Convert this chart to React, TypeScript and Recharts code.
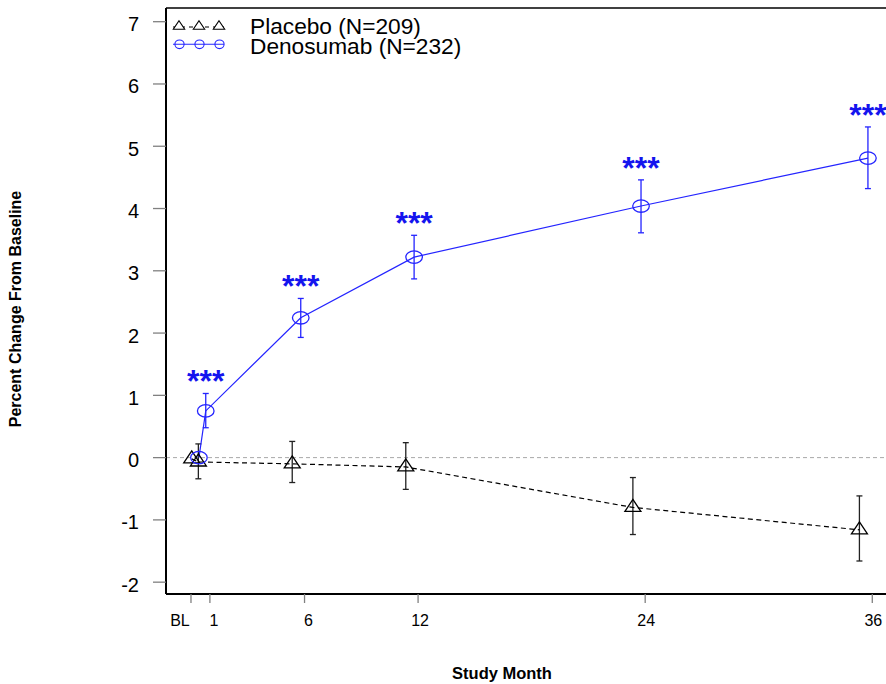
import React from 'react';
import { ComposedChart, Line, Scatter, XAxis, YAxis, ErrorBar, ReferenceLine } from 'recharts';

// ---- data ----
const monthTicks = [0, 1, 6, 12, 24, 36];
const monthTickLabels = ['BL', '1', '6', '12', '24', '36'];
const valueTicks = [-2, -1, 0, 1, 2, 3, 4, 5, 6, 7];

const placeboX = [0.04, 0.39, 5.35, 11.35, 23.35, 35.32];
const placeboMean = [-0.02, -0.07, -0.1, -0.15, -0.8, -1.16];
const placeboLow = [null, -0.34, -0.4, -0.51, -1.235, -1.66];
const placeboHigh = [null, 0.22, 0.26, 0.24, -0.32, -0.615];

const denosumabX = [0.42, 0.78, 5.8, 11.79, 23.78, 35.77];
const denosumabMean = [0, 0.75, 2.245, 3.22, 4.04, 4.81];
const denosumabLow = [null, 0.48, 1.93, 2.87, 3.61, 4.32];
const denosumabHigh = [null, 1.03, 2.556, 3.57, 4.46, 5.31];
const denosumabSig = ['', '***', '***', '***', '***', '***'];

const placeboName = 'Placebo (N=209)';
const denosumabName = 'Denosumab (N=232)';
const xTitle = 'Study Month';
const yTitle = 'Percent Change From Baseline';

const xDomain = [-1.32, 37.2];
const yDomain = [-2.19, 7.22];

// ---- derived tables ----
const placeboLine = placeboX.map((x, i) => ({ x, y: placeboMean[i] }));
const denosumabLine = denosumabX.map((x, i) => ({ x, y: denosumabMean[i] }));
const placeboErr = placeboX
  .map((x, i) => ({
    x,
    y: placeboMean[i],
    lo: placeboLow[i],
    err: placeboLow[i] == null ? null : [placeboMean[i] - (placeboLow[i] as number), (placeboHigh[i] as number) - placeboMean[i]],
  }))
  .filter((d) => d.lo != null);
const denosumabErr = denosumabX
  .map((x, i) => ({
    x,
    y: denosumabMean[i],
    lo: denosumabLow[i],
    err: denosumabLow[i] == null ? null : [denosumabMean[i] - (denosumabLow[i] as number), (denosumabHigh[i] as number) - denosumabMean[i]],
  }))
  .filter((d) => d.lo != null);
const sigData = denosumabX
  .map((x, i) => ({ x, y: denosumabHigh[i], sig: denosumabSig[i] }))
  .filter((d) => d.sig !== '' && d.y != null);

const FONT = "'Liberation Sans', Arial, Helvetica, sans-serif";
const BLUE = '#2424ff';
const SIG_BLUE = '#1414ee';

const labelShift: Record<string, number> = { BL: -11, '1': 4, '6': 4, '12': 2, '24': 1, '36': 1 };

const XTick = (props: any) => {
  const { x, y, payload } = props;
  const idx = monthTicks.indexOf(payload.value);
  const lab = idx >= 0 ? monthTickLabels[idx] : String(payload.value);
  return (
    <text x={x + (labelShift[lab] || 0)} y={y + 21} textAnchor="middle" fontSize={16} fontFamily={FONT} fill="#000">
      {lab}
    </text>
  );
};

const YTick = (props: any) => {
  const { x, y, payload } = props;
  return (
    <text x={x} y={y + 9.5} textAnchor="end" fontSize={20} fontFamily={FONT} fill="#000">
      {payload.value}
    </text>
  );
};

const TriangleDot = (props: any) => {
  const { cx, cy, index } = props;
  if (cx == null || cy == null) return <g key={`t${index}`} />;
  return (
    <path
      key={`t${index}`}
      d={`M${cx},${cy - 8}L${cx + 8},${cy + 4}L${cx - 8},${cy + 4}Z`}
      fill="none"
      stroke="#000"
      strokeWidth={1.3}
    />
  );
};

const EllipseDot = (props: any) => {
  const { cx, cy, index } = props;
  if (cx == null || cy == null) return <g key={`e${index}`} />;
  return <ellipse key={`e${index}`} cx={cx} cy={cy} rx={8.3} ry={6.2} fill="none" stroke={BLUE} strokeWidth={1.3} />;
};

const NoShape = () => <g />;

const SigShape = (props: any) => {
  const { cx, cy, payload } = props;
  return (
    <text x={cx} y={cy - 1} textAnchor="middle" fontSize={32} fontWeight="bold" fontFamily={FONT} fill={SIG_BLUE}>
      {payload.sig}
    </text>
  );
};

const legendXs = [179, 199, 219];

export default function App() {
  return (
    <div style={{ position: 'absolute', left: 0, top: 0, width: 886, height: 684, overflow: 'hidden', background: '#fff' }}>
      <ComposedChart width={900} height={684} margin={{ top: 8, right: 5, bottom: 0, left: 0 }}>
        <XAxis
          type="number"
          dataKey="x"
          domain={xDomain}
          allowDataOverflow
          ticks={monthTicks}
          interval={0}
          height={90}
          tickSize={9}
          tick={<XTick />}
          axisLine={{ stroke: '#000', strokeWidth: 2 }}
          tickLine={{ stroke: '#808080', strokeWidth: 1.3 }}
        />
        <YAxis
          type="number"
          dataKey="y"
          domain={yDomain}
          allowDataOverflow
          ticks={valueTicks}
          interval={0}
          width={166}
          tickSize={13}
          tickMargin={14}
          tick={<YTick />}
          axisLine={{ stroke: '#000', strokeWidth: 2 }}
          tickLine={{ stroke: '#808080', strokeWidth: 1.3 }}
        />
        <ReferenceLine y={yDomain[1]} stroke="#000" strokeWidth={1.7} />
        <ReferenceLine y={0} stroke="#a8a8a8" strokeDasharray="4 3" strokeWidth={1} />
        <Scatter data={placeboErr} dataKey="y" shape={NoShape} isAnimationActive={false}>
          <ErrorBar dataKey="err" direction="y" width={3} stroke="#222" strokeWidth={1.3} />
        </Scatter>
        <Scatter data={denosumabErr} dataKey="y" shape={NoShape} isAnimationActive={false}>
          <ErrorBar dataKey="err" direction="y" width={3} stroke={BLUE} strokeWidth={1.3} />
        </Scatter>
        <Line
          data={placeboLine}
          dataKey="y"
          type="linear"
          stroke="#000"
          strokeWidth={1.2}
          strokeDasharray="5 3.5"
          dot={TriangleDot}
          activeDot={false}
          isAnimationActive={false}
        />
        <Line
          data={denosumabLine}
          dataKey="y"
          type="linear"
          stroke={BLUE}
          strokeWidth={1.2}
          dot={EllipseDot}
          activeDot={false}
          isAnimationActive={false}
        />
        <Scatter data={sigData} dataKey="y" shape={SigShape} isAnimationActive={false} />
      </ComposedChart>
      <svg width={886} height={684} style={{ position: 'absolute', left: 0, top: 0, pointerEvents: 'none' }}>
        <line x1={173} x2={224} y1={27} y2={27} stroke="#000" strokeWidth={1.1} strokeDasharray="4 4" />
        {legendXs.map((x) => (
          <path key={`lt${x}`} d={`M${x},${20.7}L${x + 5.7},${29.3}L${x - 5.7},${29.3}Z`} fill="#fff" stroke="#000" strokeWidth={1.1} />
        ))}
        <line x1={173} x2={224} y1={44.3} y2={44.3} stroke={BLUE} strokeWidth={1.1} />
        {legendXs.map((x) => (
          <ellipse key={`lc${x}`} cx={x + 0.5} cy={44.3} rx={4.6} ry={4.3} fill="none" stroke={BLUE} strokeWidth={1.1} />
        ))}
        <text x={250} y={33.5} fontSize={22.7} fontFamily={FONT} fill="#000">{placeboName}</text>
        <text x={250} y={53.5} fontSize={22.7} fontFamily={FONT} fill="#000">{denosumabName}</text>
        <text x={502} y={679} textAnchor="middle" fontSize={16.5} fontWeight="bold" fontFamily={FONT} fill="#000">{xTitle}</text>
        <text transform="translate(21,309) rotate(-90)" textAnchor="middle" fontSize={16} fontWeight="bold" fontFamily={FONT} fill="#000">{yTitle}</text>
      </svg>
    </div>
  );
}
